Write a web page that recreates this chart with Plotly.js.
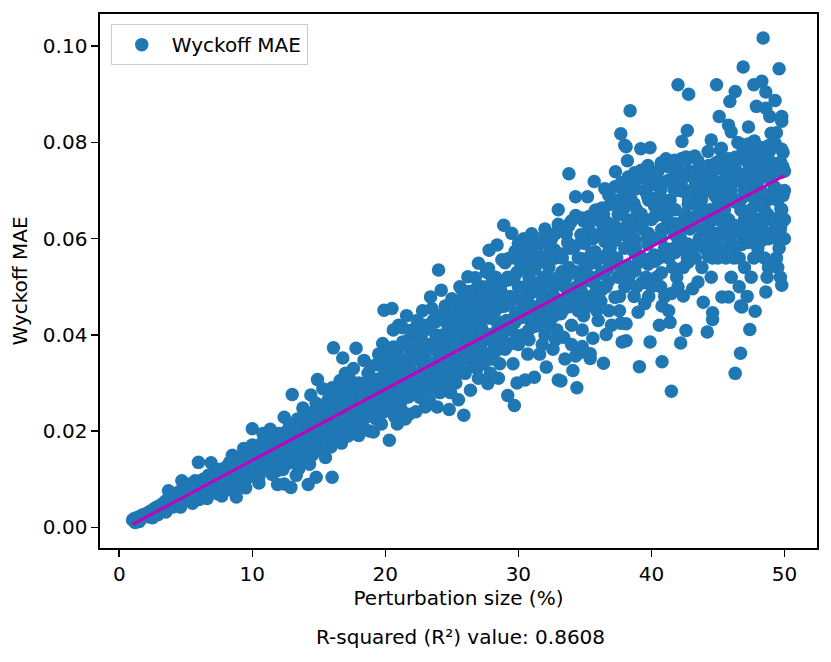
<!DOCTYPE html>
<html>
<head>
<meta charset="utf-8">
<script src="https://cdn.plot.ly/plotly-3.0.1.min.js"></script>
<style>
  html, body { margin: 0; padding: 0; background: #fff; }
  #chart { width: 831px; height: 662px; }
</style>
</head>
<body>
<div id="chart"></div>
<script>
// Perturbation size (%) for each sample
const sizePct = [
  1.0,1.1,1.2,1.3,1.4,1.5,1.6,1.7,1.8,1.9,2.0,1.2,1.5,
  2.1,2.2,2.3,2.4,2.5,2.6,2.7,2.8,2.9,3.0,2.5,2.9,
  3.1,3.2,3.3,3.4,3.5,3.6,3.7,3.8,3.9,4.0,3.5,4.0,
  4.1,4.2,4.3,4.4,4.5,4.6,4.7,4.8,4.9,5.0,4.6,5.0,
  5.1,5.2,5.3,5.4,5.5,5.6,5.7,5.8,5.9,5.95,6.0,5.5,6.0,
  6.1,6.2,6.3,6.4,6.5,6.6,6.7,6.8,6.9,7.0,6.6,7.0,
  7.1,7.2,7.3,7.4,7.5,7.6,7.7,7.8,7.9,8.0,7.5,8.0,
  8.1,8.2,8.3,8.4,8.5,8.6,8.7,8.8,8.9,9.0,8.5,9.0,8.6,
  9.1,9.2,9.35,9.4,9.5,9.6,9.7,9.8,9.9,10.0,10.0,9.5,10.0,
  10.1,10.2,10.3,10.4,10.5,10.6,10.7,10.8,10.9,11.0,11.0,10.5,10.8,
  11.1,11.2,11.35,11.4,11.5,11.6,11.7,11.9,11.9,12.0,12.0,11.5,11.8,
  12.1,12.2,12.4,12.4,12.5,12.6,12.7,12.8,12.9,13.0,13.0,12.3,12.8,13.0,
  13.1,13.2,13.3,13.4,13.5,13.6,13.7,13.8,13.9,14.0,14.0,13.5,13.9,13.6,
  14.1,14.2,14.3,14.4,14.4,14.5,14.6,14.7,14.8,14.9,15.0,14.5,14.8,15.0,14.2,
  15.1,15.3,15.2,15.4,15.5,15.6,15.7,15.8,15.9,16.0,16.0,16.1,15.5,15.9,16.0,
  16.2,16.3,16.4,16.5,16.6,16.6,16.7,16.8,16.9,17.0,17.0,16.5,16.8,17.0,
  17.1,17.2,17.3,17.4,17.5,17.6,17.7,17.8,17.9,18.0,18.0,17.5,17.9,17.3,
  18.1,18.2,18.4,18.3,18.5,18.6,18.7,18.8,18.9,19.0,19.1,18.5,18.9,19.0,
  19.2,19.3,19.4,19.5,19.6,19.8,19.7,19.8,19.9,20.0,20.0,19.5,19.9,20.0,
  20.1,20.3,20.2,20.4,20.5,20.5,20.6,20.7,20.8,20.9,21.0,21.0,20.6,20.8,21.0,
  21.1,21.2,21.3,21.4,21.5,21.6,21.7,21.8,21.9,22.0,22.0,21.5,21.8,22.0,21.3,
  22.1,22.3,22.2,22.4,22.5,22.6,22.7,22.8,22.9,23.0,23.0,22.5,22.8,23.0,22.6,
  23.1,23.2,23.4,23.3,23.5,23.6,23.7,23.9,23.8,24.0,24.0,23.5,23.9,24.0,23.6,
  24.1,24.2,24.3,24.4,24.5,24.6,24.7,24.8,24.9,25.0,25.0,24.5,24.8,25.0,24.3,24.9,
  25.1,25.2,25.3,25.4,25.6,25.5,25.7,25.9,25.8,26.0,26.0,25.5,25.8,26.0,25.3,25.7,
  26.2,26.1,26.3,26.4,26.5,26.6,26.7,26.8,26.9,27.0,27.0,26.5,26.8,27.0,26.3,26.7,
  27.1,27.2,27.3,27.4,27.5,27.6,27.7,27.8,27.9,28.0,28.0,27.5,27.8,28.0,27.3,27.9,
  28.1,28.2,28.4,28.3,28.5,28.6,28.7,28.9,28.8,29.0,29.0,28.5,28.8,29.2,28.4,29.0,
  29.1,29.2,29.3,29.5,29.4,29.6,29.7,29.7,29.8,29.9,30.0,30.0,29.5,29.9,30.0,29.3,
  30.1,30.2,30.3,30.5,30.4,30.6,30.7,30.8,30.9,31.0,31.2,30.5,30.8,31.0,30.6,31.0,
  31.3,31.4,31.5,31.6,31.7,31.8,31.9,32.0,32.1,32.0,31.5,31.8,32.0,31.4,31.9,31.6,
  32.2,32.3,32.4,32.5,32.6,32.7,32.8,32.9,33.0,33.0,32.5,32.8,33.0,32.4,32.9,33.0,32.7,
  33.2,33.2,33.4,33.3,33.5,33.6,33.7,33.8,33.8,33.9,34.0,34.0,33.5,33.9,34.0,33.6,34.1,34.0,
  34.3,34.3,34.4,34.2,34.7,34.8,34.7,34.5,34.6,34.9,35.0,35.2,34.5,34.8,35.0,34.6,35.0,34.9,
  35.4,35.4,35.6,35.7,35.3,35.5,35.6,35.8,35.9,36.0,36.0,35.5,35.8,36.0,35.3,35.9,36.0,
  36.4,36.5,36.6,36.5,36.7,36.9,36.9,36.2,36.3,36.6,36.8,37.0,37.0,36.4,36.7,37.0,36.3,
  37.3,37.5,37.7,37.7,37.8,37.6,37.4,37.2,37.9,38.0,38.0,37.5,37.8,38.0,37.3,37.6,38.0,37.9,
  38.1,38.1,38.1,38.2,38.4,38.6,38.3,38.5,38.7,38.8,38.9,39.0,39.0,38.5,38.8,38.3,38.9,38.6,
  39.1,39.2,39.2,39.5,39.7,39.9,39.9,39.3,39.4,39.6,39.7,39.8,40.0,40.0,39.5,39.8,39.3,40.0,
  40.2,40.7,40.8,40.6,40.3,40.4,40.5,40.6,40.9,41.0,41.0,40.5,40.8,41.0,40.3,40.7,40.9,41.1,
  41.4,41.5,41.5,41.3,41.7,42.0,42.0,41.3,41.6,41.8,41.9,42.0,41.4,41.7,42.0,41.2,41.9,41.6,
  42.2,42.3,42.3,42.4,42.6,42.6,42.7,42.8,42.2,42.5,42.7,42.9,43.0,42.4,42.8,43.0,42.5,43.1,
  43.5,43.8,43.9,43.2,43.3,43.4,43.6,43.7,43.8,44.0,44.0,43.5,43.9,43.3,44.0,43.6,
  44.2,44.5,44.6,44.6,44.9,45.0,44.2,44.3,44.4,44.6,44.7,44.8,45.0,44.5,44.9,44.3,45.0,44.8,
  45.1,45.2,45.2,45.3,45.8,45.8,45.9,46.0,45.3,45.4,45.5,45.6,45.7,45.8,46.0,45.5,45.9,46.0,45.6,
  46.3,46.3,46.2,46.5,46.7,46.7,46.8,46.9,46.9,47.0,46.2,46.4,46.5,46.6,46.8,47.0,46.4,46.9,46.6,47.0,
  47.3,47.3,47.4,47.4,47.2,47.7,47.8,47.9,47.2,47.3,47.5,47.6,47.7,47.8,48.0,48.0,47.5,47.9,47.6,48.0,
  48.1,48.3,48.4,48.6,48.6,48.6,48.8,48.9,48.9,48.9,48.2,48.3,48.4,48.5,48.7,48.8,49.0,48.5,48.7,49.0,
  49.3,49.4,49.4,49.5,49.6,49.7,49.8,49.8,49.8,49.9,49.9,49.9,50.0,49.2,49.3,49.5,49.6,49.7,50.0,49.4,49.8,50.0,49.5,50.0,
  // dense core, where single points can no longer be told apart
  8.27,8.74,9.22,9.78,10.26,10.71,11.28,11.73,12.21,12.29,12.72,12.80,
  13.22,13.31,13.77,13.71,14.24,14.28,14.76,14.73,15.21,15.29,15.74,15.78,
  16.22,16.28,16.31,16.74,16.77,16.71,17.23,17.27,17.32,17.76,17.72,17.79,
  18.21,18.27,18.33,18.78,18.72,18.74,19.22,19.28,19.31,19.76,19.72,19.79,
  20.22,20.28,20.31,20.24,20.77,20.73,20.79,20.71,21.23,21.28,21.21,21.32,21.77,21.72,21.79,21.74,
  22.23,22.27,22.31,22.22,22.78,22.73,22.76,22.71,23.24,23.29,23.21,23.33,23.77,23.72,23.78,23.74,
  24.22,24.28,24.31,24.26,24.73,24.77,24.71,24.79,25.24,25.28,25.22,25.31,25.27,25.73,25.77,25.71,25.78,25.76,
  26.22,26.28,26.24,26.31,26.27,26.73,26.77,26.71,26.79,26.76,27.22,27.28,27.24,27.31,27.27,27.73,27.77,27.71,27.79,27.76,
  28.22,28.28,28.24,28.31,28.27,28.73,28.77,28.71,28.79,28.76,29.22,29.28,29.24,29.31,29.27,29.73,29.77,29.71,29.79,29.76,
  30.22,30.28,30.24,30.31,30.27,30.73,30.77,30.71,30.79,30.76,31.22,31.28,31.24,31.31,31.27,31.73,31.77,31.71,31.79,31.76,
  32.22,32.28,32.24,32.31,32.27,32.73,32.77,32.71,32.79,32.76,33.22,33.28,33.24,33.31,33.27,33.73,33.77,33.71,33.79,33.76,
  34.22,34.28,34.24,34.31,34.27,34.73,34.77,34.71,34.79,34.76,35.22,35.28,35.24,35.31,35.27,35.73,35.77,35.71,35.79,35.76,
  36.22,36.28,36.24,36.31,36.27,36.73,36.77,36.71,36.79,36.76,37.22,37.28,37.24,37.31,37.27,37.26,37.73,37.77,37.71,37.79,37.76,37.74,
  38.22,38.28,38.24,38.31,38.27,38.26,38.73,38.77,38.71,38.79,38.76,38.74,39.22,39.28,39.24,39.31,39.27,39.26,39.73,39.77,39.71,39.79,39.76,39.74,
  40.22,40.28,40.24,40.31,40.27,40.26,40.73,40.77,40.71,40.79,40.76,40.74,41.22,41.28,41.24,41.31,41.27,41.26,41.73,41.77,41.71,41.79,41.76,41.74,
  42.22,42.28,42.24,42.31,42.27,42.26,42.73,42.77,42.71,42.79,42.76,42.74,43.22,43.28,43.24,43.31,43.27,43.26,43.73,43.77,43.71,43.79,43.76,43.74,
  44.22,44.28,44.24,44.31,44.27,44.26,44.29,44.73,44.77,44.71,44.79,44.76,44.74,44.78,45.22,45.28,45.24,45.31,45.27,45.26,45.29,45.73,45.77,45.71,45.79,45.76,45.74,45.78,
  46.22,46.28,46.24,46.31,46.27,46.26,46.29,46.73,46.77,46.71,46.79,46.76,46.74,46.78,47.22,47.28,47.24,47.31,47.27,47.26,47.29,47.73,47.77,47.71,47.79,47.76,47.74,47.78,
  48.22,48.28,48.24,48.31,48.27,48.26,48.29,48.73,48.77,48.71,48.79,48.76,48.74,48.78,49.22,49.28,49.24,49.31,49.27,49.26,49.73,49.77,49.71,49.79,49.76,49.74
];

// Wyckoff MAE for each sample, same order as sizePct
const mae = [
  .0015,.0018,.0013,.0020,.0016,.0022,.0019,.0025,.0021,.0027,.0024,.0010,.0012,
  .0029,.0022,.0033,.0027,.0036,.0030,.0040,.0033,.0043,.0036,.0020,.0026,
  .0046,.0038,.0050,.0041,.0055,.0045,.0076,.0050,.0060,.0042,.0032,.0065,
  .0056,.0070,.0048,.0062,.0074,.0055,.0097,.0068,.0080,.0058,.0042,.0088,
  .0065,.0078,.0090,.0060,.0072,.0085,.0097,.0068,.0080,.0135,.0093,.0050,.0058,
  .0075,.0088,.0100,.0068,.0082,.0095,.0108,.0072,.0134,.0090,.0060,.0110,
  .0080,.0098,.0112,.0070,.0088,.0104,.0065,.0118,.0093,.0125,.0120,.0078,
  .0100,.0114,.0135,.0085,.0108,.0124,.0145,.0063,.0098,.0118,.0150,.0140,.0075,
  .0108,.0128,.0164,.0092,.0120,.0140,.0155,.0105,.0132,.0171,.0205,.0082,.0115,
  .0150,.0125,.0160,.0138,.0092,.0172,.0118,.0148,.0185,.0130,.0160,.0105,.0195,
  .0145,.0172,.0204,.0125,.0158,.0185,.0138,.0089,.0118,.0168,.0195,.0110,.0150,
  .0135,.0178,.0229,.0090,.0155,.0200,.0133,.0185,.0083,.0276,.0165,.0120,.0215,.0140,
  .0190,.0158,.0108,.0225,.0175,.0140,.0205,.0248,.0146,.0185,.0160,.0122,.0230,.0192,
  .0210,.0089,.0131,.0275,.0160,.0195,.0240,.0175,.0104,.0307,.0215,.0150,.0258,.0185,.0225,
  .0160,.0288,.0198,.0235,.0145,.0215,.0265,.0180,.0167,.0104,.0245,.0373,.0185,.0205,.0290,
  .0225,.0190,.0265,.0210,.0295,.0305,.0175,.0352,.0240,.0200,.0275,.0250,.0220,.0320,
  .0235,.0190,.0290,.0215,.0260,.0330,.0200,.0372,.0245,.0191,.0300,.0225,.0275,.0250,
  .0225,.0265,.0347,.0210,.0290,.0240,.0320,.0200,.0270,.0310,.0198,.0255,.0335,.0235,
  .0280,.0225,.0305,.0250,.0345,.0382,.0215,.0290,.0451,.0265,.0325,.0360,.0240,.0355,
  .0300,.0181,.0245,.0340,.0455,.0275,.0375,.0230,.0310,.0215,.0355,.0260,.0410,.0290,.0420,
  .0320,.0245,.0385,.0275,.0350,.0440,.0300,.0235,.0370,.0280,.0410,.0225,.0330,.0345,.0415,
  .0300,.0240,.0365,.0430,.0320,.0270,.0390,.0450,.0300,.0355,.0250,.0410,.0340,.0420,.0375,
  .0310,.0380,.0479,.0265,.0340,.0430,.0290,.0250,.0400,.0535,.0360,.0455,.0320,.0440,.0375,
  .0280,.0493,.0400,.0335,.0460,.0300,.0420,.0245,.0370,.0475,.0330,.0380,.0440,.0405,.0355,.0280,
  .0365,.0450,.0300,.0420,.0500,.0345,.0390,.0233,.0460,.0320,.0415,.0265,.0360,.0480,.0470,.0430,
  .0521,.0385,.0440,.0285,.0470,.0350,.0415,.0495,.0330,.0549,.0450,.0400,.0370,.0310,.0490,.0460,
  .0420,.0370,.0500,.0340,.0455,.0530,.0299,.0576,.0400,.0475,.0350,.0390,.0435,.0510,.0465,.0320,
  .0455,.0380,.0587,.0520,.0420,.0340,.0490,.0628,.0400,.0550,.0460,.0310,.0510,.0274,.0475,.0370,
  .0430,.0520,.0380,.0611,.0480,.0340,.0253,.0560,.0445,.0300,.0500,.0590,.0410,.0530,.0380,.0465,
  .0450,.0545,.0400,.0306,.0600,.0480,.0360,.0520,.0430,.0570,.0312,.0500,.0390,.0460,.0560,.0610,
  .0490,.0420,.0550,.0360,.0590,.0470,.0520,.0400,.0333,.0620,.0450,.0380,.0560,.0600,.0440,.0510,
  .0480,.0540,.0420,.0600,.0370,.0500,.0560,.0450,.0306,.0630,.0460,.0390,.0520,.0580,.0410,.0660,.0440,
  .0304,.0444,.0395,.0560,.0500,.0610,.0470,.0735,.0540,.0633,.0420,.0637,.0350,.0580,.0490,.0520,.0326,.0380,
  .0687,.0356,.0290,.0470,.0608,.0376,.0364,.0450,.0520,.0637,.0480,.0687,.0560,.0410,.0590,.0500,.0540,.0440,
  .0351,.0361,.0393,.0719,.0460,.0520,.0600,.0480,.0640,.0608,.0430,.0570,.0550,.0500,.0620,.0450,.0660,
  .0341,.0704,.0401,.0594,.0633,.0671,.0580,.0470,.0530,.0500,.0450,.0550,.0620,.0650,.0560,.0420,.0610,
  .0739,.0650,.0818,.0424,.0385,.0480,.0560,.0600,.0700,.0794,.0696,.0520,.0620,.0580,.0680,.0450,.0500,.0660,
  .0791,.0388,.0423,.0762,.0866,.0706,.0520,.0620,.0480,.0580,.0660,.0447,.0550,.0680,.0720,.0600,.0500,.0640,
  .0334,.0787,.0741,.0465,.0734,.0789,.0385,.0560,.0640,.0520,.0600,.0680,.0560,.0640,.0700,.0480,.0620,.0500,
  .0683,.0706,.0344,.0420,.0600,.0520,.0650,.0560,.0620,.0480,.0680,.0740,.0460,.0580,.0720,.0500,.0660,.0766,
  .0426,.0486,.0283,.0450,.0703,.0743,.0920,.0560,.0620,.0660,.0520,.0600,.0680,.0580,.0500,.0640,.0700,.0540,
  .0383,.0699,.0802,.0481,.0409,.0770,.0825,.0900,.0600,.0650,.0560,.0620,.0700,.0540,.0680,.0580,.0730,.0496,
  .0762,.0741,.0468,.0640,.0560,.0680,.0600,.0700,.0540,.0650,.0720,.0510,.0620,.0720,.0580,.0660,
  .0406,.0805,.0446,.0432,.0920,.0760,.0700,.0620,.0660,.0560,.0720,.0640,.0680,.0520,.0600,.0740,.0560,.0700,
  .0854,.0580,.0785,.0479,.0479,.0836,.0885,.0822,.0700,.0620,.0660,.0560,.0720,.0640,.0700,.0740,.0600,.0520,.0680,
  .0906,.0320,.0560,.0800,.0362,.0460,.0458,.0766,.0957,.0540,.0680,.0620,.0720,.0560,.0660,.0700,.0740,.0600,.0500,.0640,
  .0797,.0832,.0690,.0411,.0480,.0920,.0449,.0875,.0700,.0620,.0660,.0740,.0560,.0700,.0640,.0580,.0520,.0760,.0600,.0720,
  .0776,.0927,.1017,.0905,.0871,.0489,.0540,.0854,.0783,.0640,.0700,.0620,.0740,.0560,.0680,.0600,.0720,.0660,.0520,.0819,
  .0887,.0600,.0820,.0741,.0953,.0520,.0854,.0844,.0503,.0779,.0749,.0690,.0600,.0700,.0640,.0680,.0580,.0620,.0700,.0560,.0660,.0640,.0540,.0740,
  // dense core
  .0111,.0119,.0127,.0138,.0146,.0157,.0161,.0171,.0164,.0191,.0172,.0196,
  .0176,.0207,.0181,.0214,.0188,.0232,.0201,.0236,.0213,.0252,.0226,.0254,
  .0231,.0268,.0206,.0236,.0282,.0258,.0242,.0277,.0308,.0253,.0292,.0226,
  .0252,.0298,.0276,.0257,.0296,.0231,.0263,.0306,.0338,.0272,.0312,.0249,
  .0286,.0324,.0362,.0251,.0291,.0337,.0368,.0256,.0301,.0342,.0378,.0266,.0306,.0349,.0391,.0271,
  .0311,.0354,.0397,.0279,.0318,.0366,.0404,.0286,.0331,.0372,.0413,.0291,.0336,.0383,.0427,.0299,
  .0344,.0391,.0436,.0309,.0352,.0396,.0444,.0311,.0361,.0404,.0452,.0321,.0388,.0366,.0411,.0456,.0329,.0494,
  .0374,.0421,.0466,.0336,.0401,.0381,.0429,.0474,.0341,.0519,.0389,.0436,.0481,.0354,.0412,.0396,.0444,.0489,.0361,.0538,
  .0404,.0451,.0499,.0366,.0431,.0411,.0459,.0506,.0374,.0556,.0421,.0469,.0514,.0381,.0559,.0426,.0476,.0521,.0389,.0574,
  .0436,.0471,.0538,.0569,.0398,.0452,.0482,.0547,.0583,.0409,.0439,.0503,.0537,.0588,.0418,.0461,.0497,.0563,.0597,.0426,
  .0455,.0517,.0553,.0603,.0437,.0478,.0513,.0577,.0611,.0444,.0469,.0531,.0568,.0618,.0449,.0491,.0528,.0592,.0627,.0458,
  .0498,.0531,.0584,.0648,.0467,.0491,.0558,.0592,.0643,.0474,.0513,.0546,.0613,.0646,.0479,.0507,.0573,.0607,.0659,.0486,
  .0528,.0561,.0633,.0664,.0494,.0537,.0572,.0618,.0691,.0511,.0549,.0596,.0627,.0672,.0478,.0708,.0531,.0609,.0652,.0683,.0519,.0716,
  .0544,.0612,.0638,.0694,.0521,.0728,.0571,.0597,.0672,.0703,.0533,.0737,.0553,.0628,.0651,.0727,.0508,.0742,.0589,.0611,.0688,.0709,.0547,.0752,
  .0566,.0647,.0668,.0731,.0553,.0712,.0601,.0619,.0702,.0716,.0529,.0758,.0578,.0656,.0677,.0749,.0562,.0721,.0609,.0631,.0711,.0729,.0571,.0763,
  .0619,.0633,.0714,.0731,.0578,.0766,.0589,.0671,.0692,.0768,.0551,.0742,.0627,.0646,.0724,.0739,.0584,.0772,.0603,.0681,.0701,.0748,.0593,.0736,
  .0634,.0658,.0706,.0752,.0597,.0781,.0563,.0611,.0689,.0713,.0756,.0602,.0742,.0577,.0644,.0662,.0718,.0761,.0608,.0788,.0572,.0622,.0697,.0721,.0766,.0611,.0749,.0585,
  .0628,.0676,.0727,.0769,.0613,.0752,.0581,.0659,.0683,.0731,.0774,.0618,.0796,.0588,.0636,.0714,.0738,.0781,.0597,.0758,.0592,.0667,.0691,.0742,.0786,.0627,.0803,.0601,
  .0672,.0698,.0746,.0789,.0634,.0761,.0596,.0651,.0727,.0752,.0793,.0611,.0772,.0604,.0683,.0707,.0756,.0798,.0618,.0641,.0662,.0738,.0759,.0786,.0647,.0629
];

// Least-squares fit line end points
const fitX = [1, 50];
const fitY = [0.0006, 0.0731];

const rSquared = 0.8608;

const font = { family: 'DejaVu Sans, sans-serif', size: 20, color: '#000' };

const axisStyle = {
  showgrid: false,
  zeroline: false,
  showline: true,
  linecolor: '#000',
  linewidth: 1.6,
  mirror: true,
  ticks: 'outside',
  ticklen: 7,
  tickwidth: 1.6,
  tickcolor: '#000',
  tickfont: font
};

const n = Math.min(sizePct.length, mae.length);

Plotly.newPlot('chart', [
  {
    x: sizePct.slice(0, n),
    y: mae.slice(0, n),
    type: 'scatter',
    mode: 'markers',
    name: 'Wyckoff MAE',
    marker: { color: '#1f77b4', size: 13.5, line: { width: 0 } }
  },
  {
    x: fitX,
    y: fitY,
    type: 'scatter',
    mode: 'lines',
    showlegend: false,
    line: { color: '#bf00bf', width: 3 }
  }
], {
  width: 831,
  height: 662,
  margin: { l: 100, r: 14, t: 14, b: 114 },
  paper_bgcolor: '#fff',
  plot_bgcolor: '#fff',
  font: font,
  showlegend: true,
  legend: {
    x: 0.015, y: 0.981, xanchor: 'left', yanchor: 'top',
    bgcolor: 'rgba(255,255,255,0.8)',
    bordercolor: '#cccccc', borderwidth: 1,
    font: font,
    itemwidth: 50
  },
  xaxis: Object.assign({}, axisStyle, {
    range: [-1.45, 52.45],
    tickvals: [0, 10, 20, 30, 40, 50],
    title: { text: 'Perturbation size (%)', font: font, standoff: 5 }
  }),
  yaxis: Object.assign({}, axisStyle, {
    range: [-0.0043, 0.1067],
    tickvals: [0, 0.02, 0.04, 0.06, 0.08, 0.10],
    tickformat: '.2f',
    title: { text: 'Wyckoff MAE', font: font, standoff: 10 }
  }),
  annotations: [{
    text: 'R-squared (R²) value: ' + rSquared,
    xref: 'paper', yref: 'paper',
    x: 0.503, y: -0.166,
    xanchor: 'center', yanchor: 'middle',
    showarrow: false,
    font: font
  }]
}, { displayModeBar: false, staticPlot: true });
</script>
</body>
</html>
